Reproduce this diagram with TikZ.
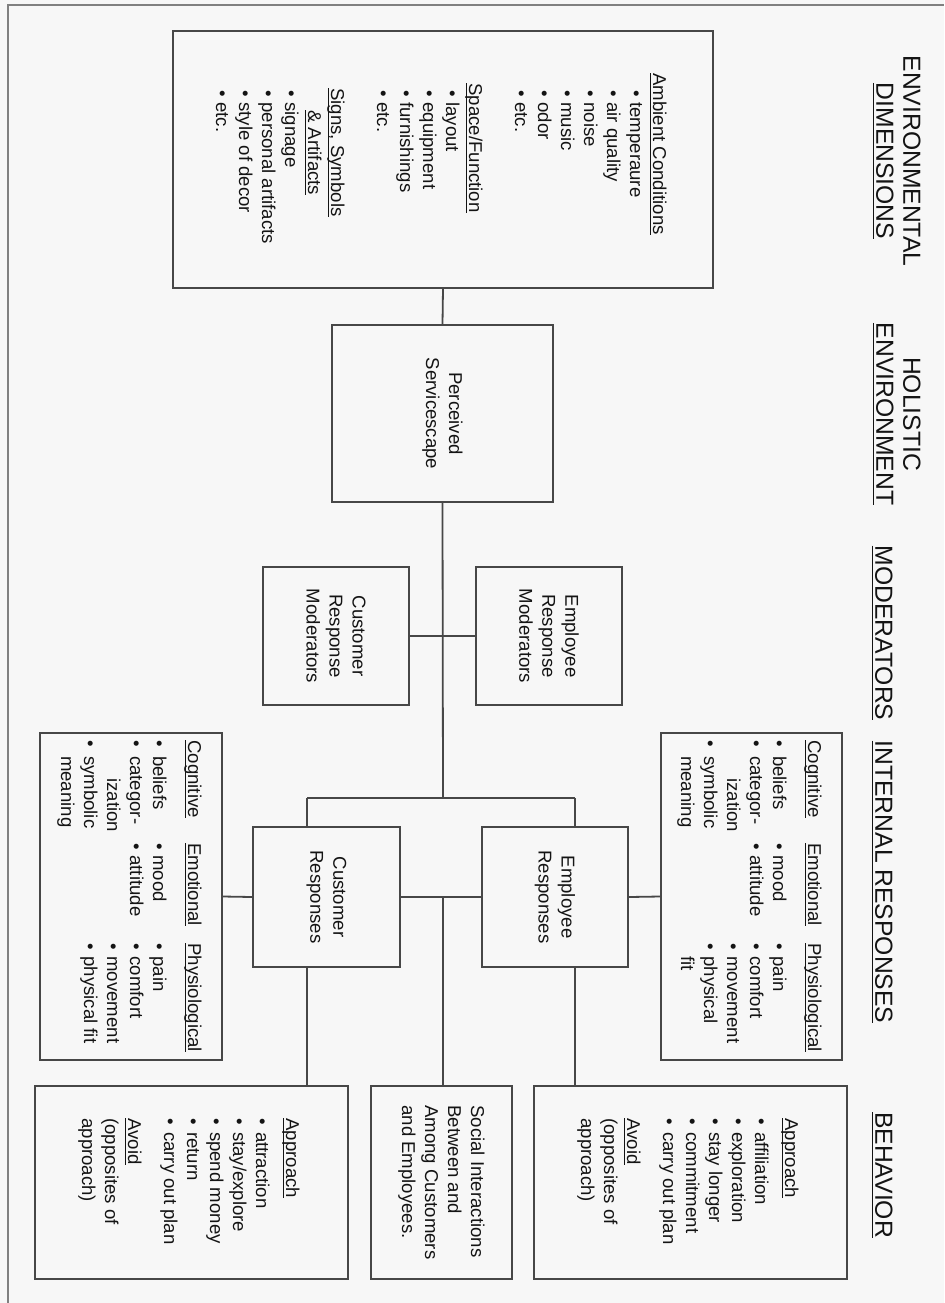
\documentclass[tikz,border=0pt]{standalone}
\usepackage{fontspec}
\setmainfont{Liberation Sans}
\usetikzlibrary{calc}

% underline with a fixed offset below the baseline
\newcommand{\ul}[1]{\setbox0\hbox{#1}\rlap{\rule[-1.8pt]{\wd0}{0.6pt}}\box0}
% bullet item with a given bullet box width
\newcommand{\itm}[2][6pt]{\makebox[#1][l]{•}#2}

\begin{document}
\begin{tikzpicture}[x=0.5pt,y=-0.5pt,
  box/.style={draw=black!72, line width=0.9pt, inner sep=0pt},
  txt/.style={rotate=-90, inner sep=0pt, text=black!92,
              font=\fontsize{9.3}{11.5}\selectfont},
  hdr/.style={rotate=-90, inner sep=0pt, align=center, text=black!92,
              font=\fontsize{12.35}{13.5}\selectfont},
  link/.style={draw=black!72, line width=0.9pt}]

\useasboundingbox (0,0) rectangle (944,1303);
\fill[black!3] (0,0) rectangle (944,1303);
\draw[black!50, line width=1pt] (8,1303) -- (8,5) -- (944,5);

% ---- boxes ----
\node[box, minimum width=270pt,   minimum height=128.5pt] (env) at (443,159.5) {};
\node[box, minimum width=110.5pt, minimum height=88.5pt]  (ps)  at (442.5,413.5) {};
\node[box, minimum width=73pt,    minimum height=69pt]    (cm)  at (336,636) {};
\node[box, minimum width=73pt,    minimum height=69pt]    (em)  at (549,636) {};
\node[box, minimum width=73.5pt,  minimum height=70pt]    (cr)  at (326.5,897) {};
\node[box, minimum width=73pt,    minimum height=70pt]    (er)  at (555,897) {};
\node[box, minimum width=91pt,    minimum height=163.5pt] (ci)  at (131,896.5) {};
\node[box, minimum width=90.5pt,  minimum height=163.5pt] (ei)  at (751.5,896.5) {};
\node[box, minimum width=156.5pt, minimum height=96.5pt]  (cb)  at (191.5,1182.5) {};
\node[box, minimum width=70.5pt,  minimum height=96.5pt]  (sb)  at (441.5,1182.5) {};
\node[box, minimum width=156.5pt, minimum height=96.5pt]  (eb)  at (690.5,1182.5) {};

% ---- connectors ----
\coordinate (j)  at (443,798);
\coordinate (jl) at (307,798);
\coordinate (jr) at (575,798);
\draw[link] (env.south) -- (ps.north);
\draw[link] (ps.south) -- (j);
\draw[link] (cm.east) -- (em.west);
\draw[link] (jl) -- (jr);
\draw[link] (jl) -- (jl |- cr.north);
\draw[link] (jr) -- (jr |- er.north);
\draw[link] (cr.east) -- (er.west);
\draw[link] (cr.west) -- (ci.east);
\draw[link] (er.east) -- (ei.west);
\draw[link] (j |- cr.east) -- (j |- sb.north);
\draw[link] (jl |- cr.south) -- (jl |- cb.north);
\draw[link] (jr |- er.south) -- (jr |- eb.north);

% ---- column headings ----
\node[hdr, anchor=north] (h1) at (921,161)  {ENVIRONMENTAL\\\ul{DIMENSIONS}};
\node[hdr, anchor=north] (h2) at (921,414)  {HOLISTIC\\\ul{ENVIRONMENT}};
\node[hdr, anchor=north] (h3) at (893,633)  {\ul{MODERATORS}};
\node[hdr, anchor=north] (h4) at (893,882)  {\ul{INTERNAL RESPONSES}};
\node[hdr, anchor=north] (h5) at (893,1175) {\ul{BEHAVIOR}};

% ---- environmental dimensions ----
\node[txt, anchor=north west, align=left] (envt) at (667,73) {%
\ul{Ambient Conditions}\\
\hspace*{8.5pt}\itm{temperaure}\\
\hspace*{8.5pt}\itm{air quality}\\
\hspace*{8.5pt}\itm{noise}\\
\hspace*{8.5pt}\itm{music}\\
\hspace*{8.5pt}\itm{odor}\\
\hspace*{8.5pt}\itm{etc.}\\[11.5pt]
\hspace*{5pt}\ul{Space/Function}\\
\hspace*{8.5pt}\itm{layout}\\
\hspace*{8.5pt}\itm{equipment}\\
\hspace*{8.5pt}\itm{furnishings}\\
\hspace*{8.5pt}\itm{etc.}\\[11.5pt]
\hspace*{7.5pt}\ul{Signs, Symbols}\\
\hspace*{18.5pt}\ul{\& Artifacts}\\
\hspace*{8.5pt}\itm{signage}\\
\hspace*{8.5pt}\itm{personal artifacts}\\
\hspace*{8.5pt}\itm{style of decor}\\
\hspace*{8.5pt}\itm{etc.}};

% ---- holistic environment and moderators ----
\node[txt, align=center] (pst) at (ps) {Perceived\\Servicescape};
\node[txt, align=center] (cmt) at (cm) {Customer\\Response\\Moderators};
\node[txt, align=center] (emt) at (em) {Employee\\Response\\Moderators};

% ---- internal responses ----
\node[txt, align=center] (crt) at (cr) {Customer\\Responses};
\node[txt, align=center] (ert) at (er) {Employee\\Responses};

\node[txt, anchor=north west, align=left] (cic) at (202,740) {%
\ul{Cognitive}\\[6pt]
\itm[7.8pt]{beliefs}\\
\itm[7.8pt]{categor-}\\
\hspace*{19pt}ization\\
\itm[7.8pt]{symbolic}\\
\hspace*{7.8pt}meaning};
\node[txt, anchor=north west, align=left] (cie) at (202,843) {%
\ul{Emotional}\\[6pt]
\itm{mood}\\
\itm{attitude}};
\node[txt, anchor=north west, align=left] (cip) at (202,943) {%
\ul{Physiological}\\[6pt]
\itm[6.5pt]{pain}\\
\itm[6.5pt]{comfort}\\
\itm[6.5pt]{movement}\\
\itm[6.5pt]{physical fit}};

\node[txt, anchor=north west, align=left] (eic) at (822,740) {%
\ul{Cognitive}\\[6pt]
\itm[7.8pt]{beliefs}\\
\itm[7.8pt]{categor-}\\
\hspace*{19pt}ization\\
\itm[7.8pt]{symbolic}\\
\hspace*{7.8pt}meaning};
\node[txt, anchor=north west, align=left] (eie) at (822,843) {%
\ul{Emotional}\\[6pt]
\itm{mood}\\
\itm{attitude}};
\node[txt, anchor=north west, align=left] (eip) at (822,943) {%
\ul{Physiological}\\[6pt]
\itm[6.5pt]{pain}\\
\itm[6.5pt]{comfort}\\
\itm[6.5pt]{movement}\\
\itm[6.5pt]{physical}\\
\hspace*{6.5pt}fit};

% ---- behavior ----
\node[txt, anchor=north west, align=left] (cbt) at (300,1118) {%
\ul{Approach}\\[3.5pt]
\itm[6.8pt]{attraction}\\
\itm[6.8pt]{stay/explore}\\
\itm[6.8pt]{spend money}\\
\itm[6.8pt]{return}\\
\itm[6.8pt]{carry out plan}\\[6.5pt]
\ul{Avoid}\\
(opposites of\\
approach)};
\node[txt, anchor=north west, align=left] (sbt) at (485,1105) {%
Social Interactions\\
Between and\\
Among Customers\\
and Employees.};
\node[txt, anchor=north west, align=left] (ebt) at (799,1118) {%
\ul{Approach}\\[3.5pt]
\itm[6.8pt]{affiliation}\\
\itm[6.8pt]{exploration}\\
\itm[6.8pt]{stay longer}\\
\itm[6.8pt]{commitment}\\
\itm[6.8pt]{carry out plan}\\[6.5pt]
\ul{Avoid}\\
(opposites of\\
approach)};

\end{tikzpicture}
\end{document}
